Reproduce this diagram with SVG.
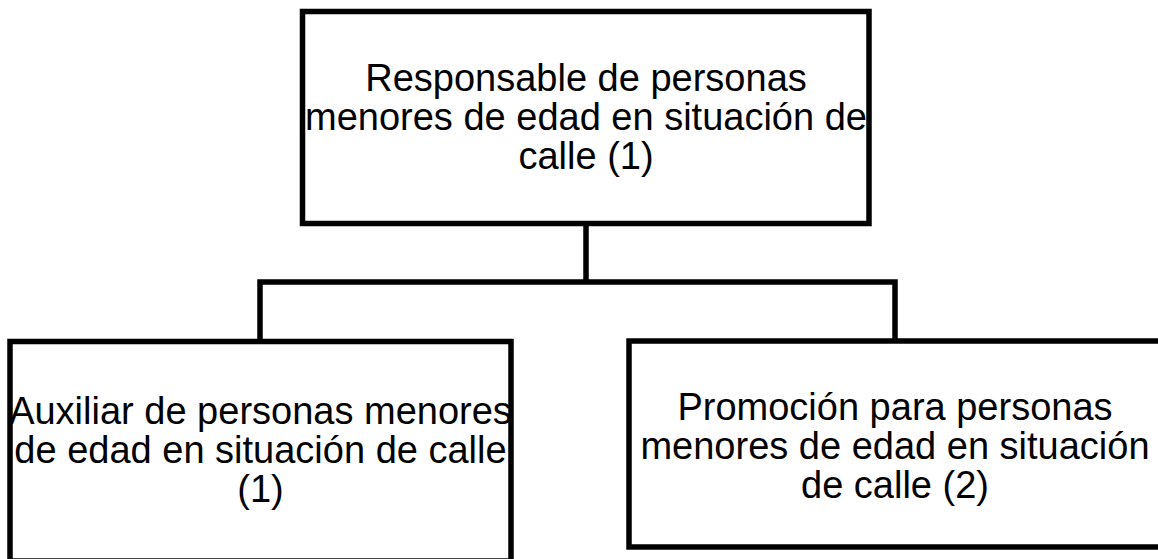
<svg xmlns="http://www.w3.org/2000/svg" width="1158" height="559" viewBox="0 0 1158 559">
<style>
.box{fill:#fff;stroke:#000;stroke-width:5.5}
.conn{fill:none;stroke:#000;stroke-width:5.5;stroke-linecap:square;stroke-linejoin:miter}
text{font-family:"Liberation Sans",Arial,sans-serif;font-size:38px;fill:#000;text-anchor:middle}
</style>
<rect width="1158" height="559" fill="#fff"/>
<g id="connectors">
<path class="conn" d="M586,223.5 V282 M260,341.5 V282 H895 V341"/>
</g>
<g id="node-top">
<rect class="box" x="302.5" y="11.5" width="566.5" height="212"/>
<text x="586" y="91">Responsable de personas</text>
<text x="586" y="130">menores de edad en situación de</text>
<text x="586" y="169">calle (1)</text>
</g>
<g id="node-left">
<rect class="box" x="10" y="341.5" width="501" height="219.5"/>
<text x="260.5" y="424">Auxiliar de personas menores</text>
<text x="260.5" y="463">de edad en situación de calle</text>
<text x="260.5" y="502">(1)</text>
</g>
<g id="node-right">
<rect class="box" x="629" y="341" width="535" height="206"/>
<text x="895" y="420">Promoción para personas</text>
<text x="895" y="459">menores de edad en situación</text>
<text x="895" y="498">de calle (2)</text>
</g>
</svg>
